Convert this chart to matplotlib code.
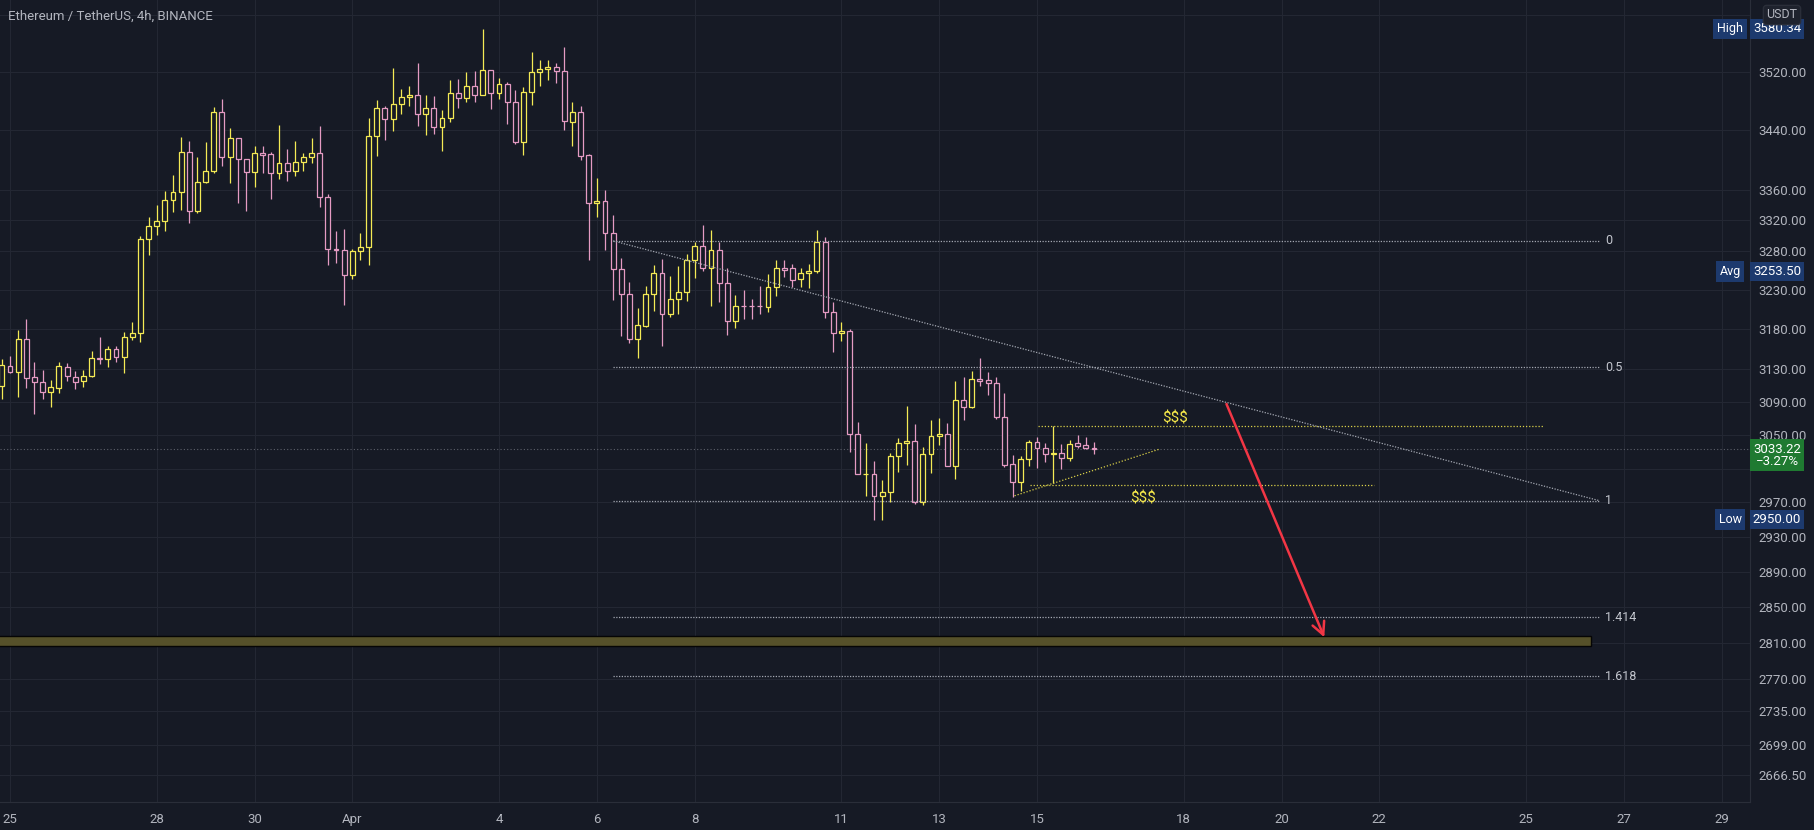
import numpy as np
import pandas as pd
import matplotlib
matplotlib.use("Agg")
import matplotlib.pyplot as plt
import matplotlib.transforms as mtransforms
from matplotlib.patches import Rectangle
from matplotlib.ticker import NullLocator, NullFormatter

plt.rcParams['font.family'] = ['Roboto', 'DejaVu Sans']

# ---------------- data ----------------
title = "Ethereum / TetherUS, 4h, BINANCE"
first_candle = "2022-03-24 20:00"
bar_freq = "4h"

opens = [3110.0, 3134.7, 3127.3, 3167.6, 3120.3, 3114.3, 3102.0, 3107.7, 3133.5, 3121.1,
         3115.5, 3122.3, 3144.0, 3142.7, 3155.4, 3145.9, 3170.0, 3175.3, 3295.1, 3312.0,
         3318.5, 3346.1, 3356.7, 3410.1, 3332.4, 3370.0, 3385.5, 3464.4, 3403.4, 3429.1,
         3401.1, 3383.3, 3408.7, 3407.4, 3382.0, 3395.4, 3385.5, 3396.7, 3403.8, 3408.7,
         3350.1, 3282.8, 3281.1, 3249.3, 3280.2, 3284.6, 3432.2, 3470.0, 3454.9, 3475.5,
         3485.0, 3487.8, 3461.8, 3470.0, 3444.0, 3456.2, 3490.5, 3484.5, 3500.6, 3487.8,
         3522.8, 3490.5, 3503.4, 3479.0, 3424.5, 3491.9, 3519.6, 3523.8, 3526.6, 3521.8,
         3451.6, 3464.4, 3406.5, 3342.2, 3345.2, 3303.7, 3256.3, 3224.3, 3167.6, 3184.2,
         3224.3, 3251.1, 3198.9, 3217.9, 3226.9, 3268.2, 3286.7, 3257.6, 3281.1, 3238.3,
         3190.8, 3209.6, 3209.6, 3209.6, 3208.5, 3233.3, 3257.6, 3257.6, 3243.4, 3251.1,
         3254.5, 3291.1, 3202.3, 3175.0, 3177.9, 3050.9, 3003.0, 3004.0, 2978.0, 2982.0,
         3024.8, 3040.0, 3043.1, 2970.8, 3026.8, 3048.8, 3050.9, 3012.9, 3092.5, 3084.3,
         3118.0, 3117.1, 3113.0, 3072.2, 3014.9, 2994.3, 3020.9, 3041.6, 3034.0, 3027.4,
         3028.0, 3022.0, 3040.0, 3037.6, 3034.0]
highs = [3143.0, 3146.8, 3179.2, 3193.0, 3139.0, 3129.4, 3117.1, 3139.3, 3138.1, 3128.5,
         3129.4, 3153.0, 3170.8, 3159.2, 3159.2, 3177.0, 3189.7, 3299.4, 3323.8, 3340.3,
         3358.5, 3379.7, 3430.4, 3425.8, 3404.2, 3424.5, 3472.2, 3482.7, 3442.6, 3429.1,
         3401.1, 3418.6, 3419.0, 3410.9, 3447.1, 3414.6, 3425.8, 3409.6, 3429.5, 3445.8,
         3354.5, 3306.3, 3308.1, 3282.8, 3302.9, 3456.2, 3481.3, 3473.1, 3525.1, 3496.1,
         3500.6, 3533.0, 3488.2, 3486.8, 3467.6, 3508.9, 3510.3, 3520.4, 3521.8, 3580.34,
         3522.8, 3511.3, 3505.8, 3495.1, 3499.6, 3547.5, 3536.7, 3536.7, 3533.1, 3555.3,
         3479.0, 3473.5, 3407.8, 3375.3, 3359.8, 3326.8, 3271.1, 3240.3, 3206.9, 3234.8,
         3261.8, 3269.5, 3247.6, 3260.9, 3276.0, 3291.1, 3313.7, 3307.2, 3291.1, 3257.6,
         3223.4, 3229.7, 3217.9, 3235.2, 3249.8, 3268.2, 3268.2, 3262.9, 3257.6, 3262.6,
         3307.2, 3298.5, 3214.1, 3189.6, 3180.0, 3066.0, 3040.0, 3019.0, 2996.3, 3028.0,
         3046.0, 3085.2, 3063.3, 3036.0, 3068.2, 3070.5, 3064.1, 3116.2, 3120.3, 3127.8,
         3144.6, 3127.3, 3121.1, 3100.8, 3026.0, 3025.2, 3044.0, 3047.2, 3040.0, 3060.9,
         3039.2, 3044.0, 3050.0, 3048.0, 3041.2]
lows = [3093.7, 3125.3, 3096.6, 3106.7, 3075.4, 3094.1, 3084.3, 3100.7, 3116.2, 3106.3,
        3108.9, 3120.7, 3136.8, 3133.1, 3139.1, 3125.2, 3166.3, 3164.6, 3275.0, 3300.7,
        3306.3, 3330.3, 3333.3, 3315.9, 3329.0, 3368.7, 3382.0, 3392.2, 3368.7, 3343.0,
        3332.4, 3363.4, 3382.0, 3348.5, 3374.0, 3371.9, 3378.8, 3385.5, 3396.2, 3336.8,
        3261.8, 3264.0, 3210.7, 3243.4, 3268.2, 3261.8, 3405.1, 3426.8, 3439.3, 3461.8,
        3472.6, 3445.7, 3433.5, 3434.9, 3412.3, 3451.6, 3470.0, 3479.0, 3479.0, 3487.8,
        3468.6, 3482.3, 3448.1, 3421.4, 3406.5, 3474.5, 3501.0, 3508.9, 3505.1, 3440.7,
        3419.0, 3399.8, 3268.2, 3323.8, 3281.1, 3217.0, 3172.0, 3162.5, 3143.9, 3183.3,
        3203.5, 3159.4, 3195.1, 3199.3, 3216.1, 3245.4, 3254.5, 3209.8, 3214.1, 3172.9,
        3182.0, 3193.6, 3192.9, 3199.3, 3201.9, 3222.1, 3246.8, 3233.1, 3233.9, 3232.7,
        3251.0, 3193.9, 3152.0, 3165.8, 3030.0, 3003.0, 2977.8, 2950.0, 2950.0, 2970.1,
        3006.0, 3014.1, 2968.1, 2966.9, 3004.9, 3038.0, 3012.9, 2997.1, 3068.2, 3082.4,
        3109.8, 3098.3, 3069.0, 3012.1, 2976.4, 2983.7, 3012.9, 3011.0, 3017.3, 2992.4,
        3009.0, 3019.3, 3035.0, 3032.8, 3027.2]
closes = [3135.6, 3127.3, 3167.6, 3119.9, 3114.3, 3102.0, 3108.2, 3134.0, 3122.0, 3115.0,
          3122.3, 3144.0, 3142.7, 3155.1, 3145.9, 3170.0, 3175.3, 3295.5, 3312.0, 3318.5,
          3346.1, 3356.7, 3410.1, 3332.4, 3370.0, 3385.5, 3464.4, 3403.4, 3429.1, 3401.1,
          3383.3, 3408.7, 3406.9, 3382.0, 3395.4, 3385.5, 3396.7, 3403.8, 3408.7, 3350.1,
          3282.8, 3281.1, 3249.3, 3280.2, 3284.6, 3432.2, 3470.0, 3454.9, 3475.5, 3485.0,
          3487.8, 3461.8, 3470.0, 3444.0, 3456.2, 3490.5, 3484.5, 3500.6, 3487.8, 3522.8,
          3490.5, 3503.4, 3479.0, 3424.5, 3491.9, 3519.6, 3523.8, 3526.6, 3521.8, 3452.5,
          3464.4, 3405.5, 3342.2, 3345.2, 3303.7, 3256.3, 3224.3, 3167.6, 3185.0, 3224.3,
          3251.1, 3198.9, 3217.9, 3226.9, 3268.2, 3286.7, 3257.6, 3281.1, 3238.3, 3190.8,
          3209.4, 3209.2, 3209.2, 3209.2, 3233.3, 3257.6, 3255.4, 3242.5, 3251.1, 3254.5,
          3291.1, 3202.3, 3175.0, 3177.9, 3050.9, 3003.0, 3004.0, 2978.0, 2982.0, 3024.8,
          3040.0, 3043.1, 2970.8, 3026.8, 3048.8, 3050.9, 3012.9, 3092.5, 3084.3, 3118.0,
          3115.9, 3113.0, 3071.4, 3014.1, 2994.3, 3020.9, 3041.6, 3034.0, 3027.2, 3027.8,
          3022.0, 3039.6, 3037.2, 3034.0, 3033.22]

change_pct = -3.27
avg_price = 3253.50

date_ticks = ["2022-03-25", "2022-03-28", "2022-03-30", "2022-04-01", "2022-04-04",
              "2022-04-06", "2022-04-08", "2022-04-11", "2022-04-13", "2022-04-15",
              "2022-04-18", "2022-04-20", "2022-04-22", "2022-04-25", "2022-04-27",
              "2022-04-29"]
date_labels = ["25", "28", "30", "Apr", "4", "6", "8", "11", "13", "15",
               "18", "20", "22", "25", "27", "29"]
price_ticks = [3600, 3520, 3440, 3360, 3320, 3280, 3230, 3180, 3130, 3090, 3050, 3010,
               2970, 2930, 2890, 2850, 2810, 2770, 2735, 2699, 2666.5]
hidden_tick_labels = [3600, 3010]   # covered by the USDT button / last-price tag

# Fibonacci drawing
fib_ratios = ["0", "0.5", "1", "1.414", "1.618"]
fib_prices = [3293.0, 3132.5, 2972.0, 2838.6, 2773.2]
fib_start = "2022-04-06 08:00"
fib_end = "2022-04-26 12:00"

# target zone
zone_low, zone_high = 2806.0, 2817.5
zone_end = "2022-04-26 08:00"

# liquidity lines ($$$)
liq_top_price, liq_top_span = 3061.0, ("2022-04-15 00:30", "2022-04-25 08:30")
liq_bot_price, liq_bot_span = 2991.0, ("2022-04-14 20:30", "2022-04-21 21:30")
rising_line_t = ["2022-04-14 13:00", "2022-04-17 12:00"]
rising_line_p = [2977.8, 3033.0]
liq_top_text = ("2022-04-17 20:00", 3069.5)
liq_bot_text = ("2022-04-17 04:00", 2975.0)

# projection arrow
arrow_t = ["2022-04-18 21:00", "2022-04-20 21:00"]
arrow_p = [3087.6, 2816.0]

# ---------------- helpers ----------------
origin = pd.Timestamp("2022-03-25")


def dnum(t):
    return (pd.Timestamp(t) - origin) / pd.Timedelta(days=1)


times = pd.date_range(first_candle, periods=len(opens), freq=bar_freq)
x = np.asarray((times - origin) / pd.Timedelta(days=1), dtype=float)
o = np.array(opens); h = np.array(highs); l = np.array(lows); c = np.array(closes)

BG = "#161a25"
GRID = "#232733"
TXT = "#b2b5be"
UP = "#f4ea55"
DN = "#e59bc3"

W, H = 1814, 830
fig = plt.figure(figsize=(W / 100, H / 100), dpi=100, facecolor=BG)
ax = fig.add_axes([0, 28 / H, 1750 / W, 802 / H], facecolor=BG)
ax.set_yscale("log")
ax.set_xlim(-0.2045, 35.58)
ax.set_ylim(2638.7, 3621.5)

# grid
for t in date_ticks:
    ax.axvline(dnum(t), color=GRID, lw=0.8, zorder=0)
for p in price_ticks:
    ax.axhline(p, color=GRID, lw=0.8, zorder=0)

# candles
cols = [UP if cc >= oo else DN for oo, cc in zip(o, c)]
ax.vlines(x, l, h, colors=cols, lw=0.9, zorder=2)
bot = np.minimum(o, c)
hei = np.maximum(np.abs(c - o), 0.5)
ax.bar(x, hei, bottom=bot, width=0.6 / 6, facecolor=BG, edgecolor=cols,
       linewidth=0.9, zorder=3, align="center")

# last price line
ax.axhline(c[-1], color="#5d606b", ls=(0, (1, 2)), lw=0.8, zorder=1)

# fib levels
fs, fe = dnum(fib_start), dnum(fib_end)
for r, p in zip(fib_ratios, fib_prices):
    ax.hlines(p, fs, fe, colors="#a3a7b1", linestyles=(0, (1, 1.2)), lw=0.9, zorder=4)
    ax.text(fe + 0.12, p, r, color="#c3c6ce", fontsize=9, va="center", ha="left", zorder=5)
ax.plot([fs, fe], [fib_prices[0], fib_prices[2]], color="#a3a7b1",
        ls=(0, (1, 1.2)), lw=0.9, zorder=4)

# zone
ax.add_patch(Rectangle((-1, zone_low), dnum(zone_end) + 1, zone_high - zone_low,
                       facecolor="#56512a", edgecolor="#050505", lw=1.0, zorder=4))

# liquidity lines
YL = "#d8cf48"
ax.hlines(liq_top_price, dnum(liq_top_span[0]), dnum(liq_top_span[1]), colors=YL,
          linestyles=(0, (1, 1.5)), lw=0.9, zorder=4)
ax.hlines(liq_bot_price, dnum(liq_bot_span[0]), dnum(liq_bot_span[1]), colors=YL,
          linestyles=(0, (1, 1.5)), lw=0.9, zorder=4)
ax.plot([dnum(t) for t in rising_line_t], rising_line_p, color=YL,
        ls=(0, (1, 1.5)), lw=0.9, zorder=4)
ax.text(dnum(liq_top_text[0]), liq_top_text[1], "$$$", color="#f5e84a", fontsize=11,
        ha="center", va="center", zorder=5)
ax.text(dnum(liq_bot_text[0]), liq_bot_text[1], "$$$", color="#f5e84a", fontsize=11,
        ha="center", va="center", zorder=5)

# arrow
ax.annotate("", xy=(dnum(arrow_t[1]), arrow_p[1]), xytext=(dnum(arrow_t[0]), arrow_p[0]),
            arrowprops=dict(arrowstyle="->,head_length=0.9,head_width=0.45",
                            color="#f23645", lw=1.8, shrinkA=0, shrinkB=0), zorder=6)

# axes styling
for s in ["top", "left"]:
    ax.spines[s].set_visible(False)
ax.spines["right"].set_color("#2a2e39")
ax.spines["bottom"].set_color("#2a2e39")
ax.yaxis.tick_right()
ax.yaxis.set_minor_locator(NullLocator())
ax.yaxis.set_minor_formatter(NullFormatter())
ax.set_yticks(price_ticks)
ax.set_yticklabels(["" if p in hidden_tick_labels else f"{p:.2f}" for p in price_ticks])
ax.set_xticks([dnum(t) for t in date_ticks])
ax.set_xticklabels(date_labels)
ax.tick_params(axis="y", length=0, pad=6, colors=TXT, labelsize=9.5)
ax.tick_params(axis="x", length=0, pad=8, colors=TXT, labelsize=9.5)

# title
fig.text(8 / W, 1 - 16 / H, title, color=TXT, fontsize=9.5, ha="left", va="center")

# right-side price tags
blend = mtransforms.blended_transform_factory(fig.transFigure, ax.transData)
NAVY = "#1d3a6e"


def tag(price, name, value):
    ax.text(1777 / W, price, value, transform=blend, ha="center", va="center",
            color="white", fontsize=9.5, clip_on=False, zorder=10,
            bbox=dict(boxstyle="square,pad=0.25", fc=NAVY, ec="none"))
    ax.text(1730 / W, price, name, transform=blend, ha="center", va="center",
            color="white", fontsize=9, clip_on=False, zorder=10,
            bbox=dict(boxstyle="square,pad=0.3", fc=NAVY, ec="none"))


tag(h.max(), "High", f"{h.max():.2f}")
tag(avg_price, "Avg", f"{avg_price:.2f}")
tag(l.min(), "Low", f"{l.min():.2f}")

ax.annotate(f"{c[-1]:.2f}\n\u2212{abs(change_pct):.2f}%", xy=(1777 / W, c[-1]), xycoords=blend,
            xytext=(0, -4.5), textcoords="offset points", ha="center", va="center",
            color="white", fontsize=9.5, linespacing=0.95, annotation_clip=False, zorder=10,
            bbox=dict(boxstyle="square,pad=0.25", fc="#1f7a31", ec="none"))

fig.text(1782 / W, 1 - 15 / H, "USDT", color=TXT, fontsize=9, ha="center", va="center",
         bbox=dict(boxstyle="round,pad=0.25", fc="#1e222d", ec="#2a2e39"))

fig.savefig("out.png", dpi=100, facecolor=BG)
